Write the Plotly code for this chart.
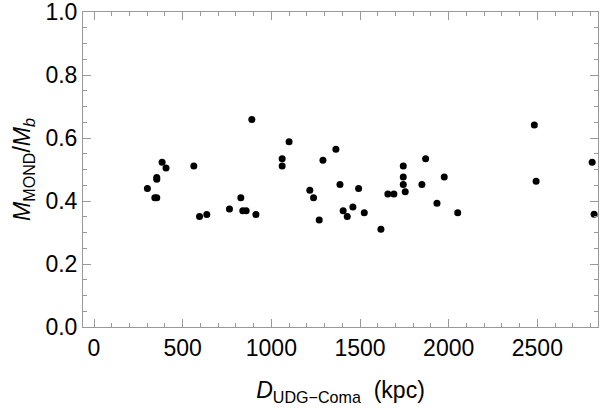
import plotly.graph_objects as go

# D_UDG-Coma (kpc)
distance_kpc = [301, 343, 354, 354, 354, 384, 406, 563, 595, 636, 764, 828, 839, 858,
                890, 913, 1061, 1061, 1100, 1217, 1238, 1270, 1291, 1364, 1387, 1405,
                1428, 1460, 1492, 1524, 1618, 1657, 1691, 1744, 1744, 1744, 1755, 1849,
                1870, 1934, 1975, 2051, 2483, 2493, 2809, 2820]
# M_MOND / M_b
mass_ratio = [0.440, 0.410, 0.410, 0.475, 0.469, 0.523, 0.505, 0.511, 0.351, 0.357,
              0.375, 0.410, 0.369, 0.369, 0.659, 0.357, 0.534, 0.511, 0.588, 0.434,
              0.410, 0.340, 0.529, 0.564, 0.452, 0.369, 0.351, 0.381, 0.440, 0.363,
              0.310, 0.422, 0.422, 0.511, 0.476, 0.452, 0.429, 0.452, 0.534, 0.393,
              0.476, 0.363, 0.641, 0.463, 0.523, 0.358]

x_ticks = [0, 500, 1000, 1500, 2000, 2500]
y_ticks = [0.0, 0.2, 0.4, 0.6, 0.8, 1.0]

fig = go.Figure(go.Scatter(
    x=distance_kpc, y=mass_ratio, mode="markers",
    marker=dict(color="black", size=7),
    showlegend=False,
))

tick_font = dict(family="Liberation Sans, Arial, sans-serif", size=23, color="black")
title_font = dict(family="Liberation Sans, Arial, sans-serif", size=23, color="black")
axis_common = dict(
    showgrid=False, zeroline=False, showline=True, linecolor="#999999", linewidth=1,
    mirror="allticks", ticks="inside", ticklen=8, tickcolor="#999999", tickwidth=1,
    tickfont=tick_font, automargin=False, ticklabeloverflow="allow",
)
fig.update_xaxes(
    range=[-62, 2842], tickvals=x_ticks, ticktext=[str(v) for v in x_ticks],
    minor=dict(dtick=100, ticks="inside", ticklen=4, tickcolor="#999999", showgrid=False),
    title=dict(text="<i>D</i><sub>UDG\u2212Coma</sub>&nbsp;&nbsp;(kpc)", font=title_font, standoff=22),
    **axis_common,
)
fig.update_yaxes(
    range=[0, 1.0], tickvals=y_ticks, ticktext=[f"{v:.1f}" for v in y_ticks],
    minor=dict(dtick=0.05, ticks="inside", ticklen=4, tickcolor="#999999", showgrid=False),
    title=dict(text="<i>M</i><sub>MOND</sub>/<i>M</i><sub><i>b</i></sub>", font=title_font, standoff=8),
    **axis_common,
)
fig.update_layout(
    width=603, height=414,
    margin=dict(l=83, r=5, t=12, b=87),
    plot_bgcolor="white", paper_bgcolor="white",
    font=title_font,
)
fig.write_html("out.html", config={"displayModeBar": False},
               post_script="document.body.style.margin='0';")
